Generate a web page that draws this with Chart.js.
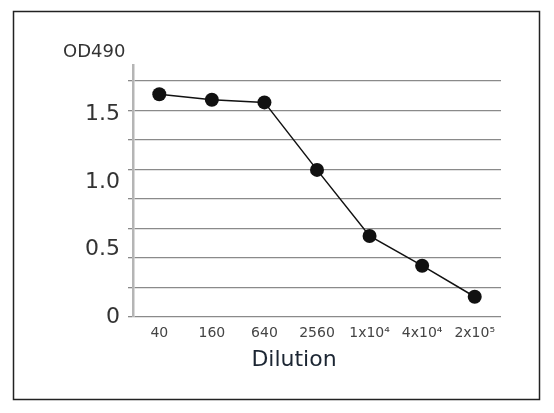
<!DOCTYPE html>
<html>
<head>
<meta charset="utf-8">
<script src="https://cdn.jsdelivr.net/npm/chart.js@4"></script>
<style>
  html, body { margin: 0; padding: 0; background: #fff; }
  #wrap { width: 554px; height: 413px; position: relative; }
</style>
</head>
<body>
<div id="wrap"><canvas id="odChart"></canvas></div>
<script>
// data
const dilutions = ['40', '160', '640', '2560', '1x10\u2074', '4x10\u2074', '2x10\u2075'];
const od490 = [1.65, 1.61, 1.59, 1.09, 0.60, 0.38, 0.15];
const gridTicks = [0, 0.219, 0.438, 0.656, 0.875, 1.094, 1.313, 1.531, 1.75];
const labelTicks = [0, 0.5, 1.0, 1.5];
const labelText = ['0', '0.5', '1.0', '1.5'];
const yMax = 1.867;

// *****Frame + axis captions***** //
const framePlugin = {
    id: 'frame',
    beforeDraw(chart) {
        const c = chart.ctx;
        c.save();
        c.fillStyle = '#fff';
        c.fillRect(0, 0, chart.width, chart.height);
        c.strokeStyle = '#222';
        c.lineWidth = 1.5;
        c.strokeRect(13.5, 11.5, 526, 388);
        c.restore();
    },
    afterDraw(chart) {
        const c = chart.ctx;
        c.save();
        c.textBaseline = 'middle';
        // y caption
        c.font = '18px "DejaVu Sans"';
        c.fillStyle = '#333';
        c.textAlign = 'left';
        c.fillText('OD490', 63, 52);
        // x caption, sits left of the plot centre in the original
        c.font = '22px "DejaVu Sans"';
        c.fillStyle = '#1c2633';
        c.textAlign = 'center';
        c.fillText('Dilution', 294, 360);
        c.restore();
    }
};

const ctx = document.getElementById('odChart');
if (ctx) {
    const odChart = new Chart(ctx, {
        type: 'line',
        data: {
            labels: dilutions,
            datasets: [{
                label: 'OD490',
                data: od490,
                yAxisID: 'y',
                borderColor: '#111',
                borderWidth: 1.5,
                backgroundColor: '#111',
                pointRadius: 7,
                pointBorderWidth: 0,
                pointBackgroundColor: '#111',
                tension: 0
            }]
        },
        options: {
            responsive: true,
            maintainAspectRatio: false,
            animation: false,
            layout: { padding: { left: 0, right: 53, top: 65, bottom: 14 } },
            plugins: {
                legend: { display: false },
                tooltip: { enabled: false }
            },
            scales: {
                x: {
                    offset: true,
                    grid: { display: false, drawTicks: false },
                    border: { display: false },
                    ticks: {
                        color: '#444',
                        font: { family: 'DejaVu Sans', size: 14 },
                        padding: 8,
                        maxRotation: 0,
                        autoSkip: false
                    },
                    afterFit(s) { s.height = 82; }
                },
                y: {
                    position: 'left',
                    weight: 0,
                    min: 0,
                    max: yMax,
                    afterBuildTicks(s) { s.ticks = gridTicks.map(v => ({ value: v })); },
                    ticks: { display: false },
                    grid: { color: '#8a8a8a', lineWidth: 1.3, tickLength: 5, drawTicks: true },
                    border: { display: true, color: '#b5b5b5', width: 2.5 },
                    afterFit(s) { s.width = 5; }
                },
                yl: {
                    position: 'left',
                    weight: 1,
                    min: 0,
                    max: yMax,
                    afterBuildTicks(s) { s.ticks = labelTicks.map(v => ({ value: v })); },
                    grid: { display: false, drawTicks: false },
                    border: { display: false },
                    ticks: {
                        color: '#333',
                        font: { family: 'DejaVu Sans', size: 22 },
                        padding: 8,
                        callback: (v) => labelText[labelTicks.indexOf(v)]
                    },
                    afterFit(s) { s.width = 128; }
                }
            }
        },
        plugins: [framePlugin]
    });
}
</script>
</body>
</html>
